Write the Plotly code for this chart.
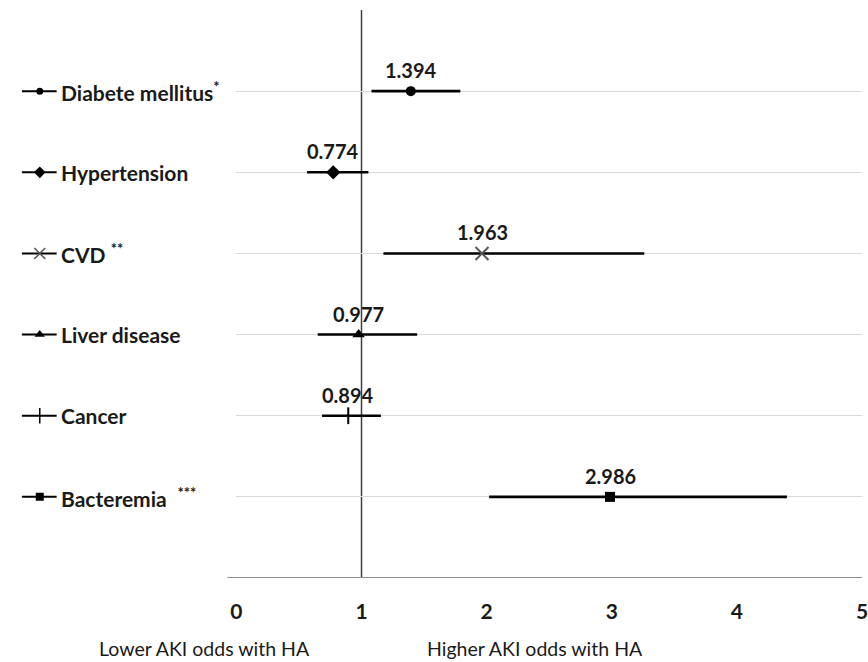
import plotly.graph_objects as go

# ---- data ----
categories = ["Diabete mellitus", "Hypertension", "CVD", "Liver disease", "Cancer", "Bacteremia"]
significance = ["*", "", "**", "", "", "***"]
odds_ratio = [1.394, 0.774, 1.963, 0.977, 0.894, 2.986]
ci_low = [1.08, 0.565, 1.175, 0.65, 0.685, 2.02]
ci_high = [1.79, 1.055, 3.26, 1.445, 1.155, 4.40]
x_ticks = [0, 1, 2, 3, 4, 5]
x_tick_labels = ["0", "1", "2", "3", "4", "5"]
left_caption = "Lower AKI odds with HA"
right_caption = "Higher AKI odds with HA"

# ---- styles ----
symbols = ["circle", "diamond", "x-thin-open", "triangle-up", "line-ns-open", "square"]
marker_sizes = [10, 11, 13, 11, 12, 10]
icon_sizes = [7, 9, 11, 9, 11, 8]
marker_colors = ["#000000", "#000000", "#555555", "#000000", "#000000", "#000000"]
sup_shift = ["", " ", " ", "", "", "  "]
FONT = "Lato"
TXT = "#1a1a1a"

n = len(categories)
rows = [n - i for i in range(n)]

W, H = 868, 662
ML, MR, MT, MB = 0, 6, 10, 84
plot_w = W - ML - MR
left_px = 232
split = left_px / plot_w

fig = go.Figure()

for i in range(n):
    fig.add_trace(go.Scatter(
        x=[odds_ratio[i]], y=[rows[i]], mode="markers",
        marker=dict(symbol=symbols[i], size=marker_sizes[i], color=marker_colors[i],
                    line=dict(width=2 if "open" in symbols[i] else 0, color=marker_colors[i])),
        error_x=dict(type="data", symmetric=False,
                     array=[ci_high[i] - odds_ratio[i]],
                     arrayminus=[odds_ratio[i] - ci_low[i]],
                     color="#000000", thickness=2.6, width=0),
        showlegend=False, hoverinfo="skip", xaxis="x", yaxis="y"))
    # legend-style key glyph on the left panel
    fig.add_trace(go.Scatter(
        x=[16, 34, 51], y=[rows[i]] * 3, mode="lines",
        line=dict(color="#000000", width=2),
        showlegend=False, hoverinfo="skip", xaxis="x2", yaxis="y2"))
    fig.add_trace(go.Scatter(
        x=[34], y=[rows[i]], mode="markers",
        marker=dict(symbol=symbols[i], size=icon_sizes[i], color=marker_colors[i],
                    line=dict(width=1.5 if "open" in symbols[i] else 0, color=marker_colors[i])),
        showlegend=False, hoverinfo="skip", xaxis="x2", yaxis="y2"))

annotations = []
for i in range(n):
    sup = ""
    if significance[i]:
        sup = sup_shift[i] + "<sup><b>" + significance[i] + "</b></sup>"
    annotations.append(dict(
        x=53, y=rows[i], xref="x2", yref="y2", xanchor="left", yanchor="middle",
        text="<b>" + categories[i] + "</b>" + sup, showarrow=False,
        font=dict(family=FONT, size=21, color=TXT)))
    annotations.append(dict(
        x=odds_ratio[i], y=rows[i], xref="x", yref="y", xanchor="center", yanchor="middle",
        yshift=21, text="<b>%.3f</b>" % odds_ratio[i], showarrow=False,
        font=dict(family=FONT, size=20, color=TXT)))

plot_h = H - MT - MB
annotations.append(dict(x=200 / plot_w, y=(578 - 648) / plot_h, xref="paper", yref="paper",
                        xanchor="center", yanchor="middle", text=left_caption, showarrow=False,
                        font=dict(family=FONT, size=19.5, color=TXT)))
annotations.append(dict(x=533 / plot_w, y=(578 - 648) / plot_h, xref="paper", yref="paper",
                        xanchor="center", yanchor="middle", text=right_caption, showarrow=False,
                        font=dict(family=FONT, size=19.5, color=TXT)))

# reference line at OR = 1
fig.add_shape(type="line", x0=1, x1=1, y0=0, y1=n + 1, xref="x", yref="y",
              line=dict(color="#404040", width=1.5), layer="below")
# horizontal axis line (extends slightly left of 0, as in the original)
fig.add_shape(type="line", x0=223 / plot_w, x1=1, y0=0, y1=0, xref="paper", yref="y",
              line=dict(color="#8c8c8c", width=1.8), layer="above")

fig.update_layout(
    width=W, height=H, margin=dict(l=ML, r=MR, t=MT, b=MB),
    paper_bgcolor="white", plot_bgcolor="white",
    font=dict(family=FONT, color=TXT),
    xaxis=dict(domain=[split, 1], range=[0, 5], tickvals=x_ticks, ticktext=x_tick_labels,
               tickfont=dict(family=FONT, size=21, color=TXT, weight="bold"),
               showline=False, showgrid=False,
               zeroline=False, ticks="outside", ticklen=15, tickcolor="rgba(0,0,0,0)",
               ticklabeloverflow="allow", anchor="y", fixedrange=True),
    yaxis=dict(range=[0, n + 1], tickvals=list(range(1, n + 2)), showticklabels=False,
               showgrid=True, gridcolor="#d9d9d9", gridwidth=1, zeroline=False,
               showline=False, anchor="x", fixedrange=True),
    xaxis2=dict(domain=[0, split], range=[0, left_px], visible=False, anchor="y2", fixedrange=True),
    yaxis2=dict(range=[0, n + 1], visible=False, anchor="x2", fixedrange=True),
    annotations=annotations,
)

fig.write_html("out.html", config={"displayModeBar": False},
               post_script="document.body.style.margin='0';document.body.style.overflow='hidden';")
